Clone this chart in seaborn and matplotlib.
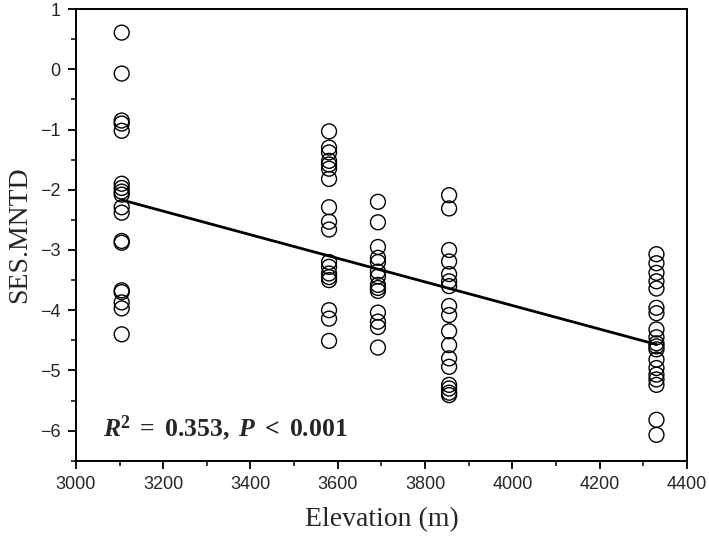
import matplotlib
matplotlib.use("Agg")
import matplotlib.pyplot as plt
import seaborn as sns
import pandas as pd
from matplotlib.ticker import MultipleLocator

elev_sites = [3105, 3580, 3692, 3855, 4330]
ses_3105 = [0.61, -0.07, -0.85, -0.90, -1.02, -1.90, -1.97, -2.03, -2.08, -2.29, -2.38,
            -2.85, -2.88, -3.67, -3.70, -3.87, -3.97, -4.40]
ses_3580 = [-1.03, -1.30, -1.38, -1.52, -1.58, -1.65, -1.82, -2.29, -2.53, -2.66,
            -3.20, -3.28, -3.39, -3.45, -3.50, -4.00, -4.14, -4.51]
ses_3692 = [-2.20, -2.54, -2.95, -3.13, -3.20, -3.36, -3.44, -3.58, -3.63, -3.68,
            -4.04, -4.19, -4.28, -4.62]
ses_3855 = [-2.09, -2.31, -3.00, -3.19, -3.40, -3.52, -3.60, -3.93, -4.08, -4.35,
            -4.58, -4.80, -4.94, -5.24, -5.30, -5.37, -5.41]
ses_4330 = [-3.07, -3.22, -3.38, -3.52, -3.64, -3.96, -4.05, -4.32, -4.45, -4.55,
            -4.60, -4.65, -4.82, -4.96, -5.07, -5.15, -5.24, -5.82, -6.07]

x_ticks = [3000, 3200, 3400, 3600, 3800, 4000, 4200, 4400]
y_ticks = [1, 0, -1, -2, -3, -4, -5, -6]
annot = r"$\mathbfit{R}^{\mathbf{2}}$" + r"$\mathbf{\ =\ 0.353,\ }$" + r"$\mathbfit{P}$" + r"$\mathbf{\ <\ 0.001}$"

groups = [ses_3105, ses_3580, ses_3692, ses_3855, ses_4330]
rows = []
for e, vals in zip(elev_sites, groups):
    for v in vals:
        rows.append((e, v))
df = pd.DataFrame(rows, columns=["Elevation", "SES"])

sns.set_style("ticks")
plt.rcParams["font.family"] = ["Liberation Sans", "DejaVu Sans"]
plt.rcParams["mathtext.fontset"] = "custom"
plt.rcParams["mathtext.rm"] = "Liberation Serif"
plt.rcParams["mathtext.it"] = "Liberation Serif:italic"
plt.rcParams["mathtext.bf"] = "Liberation Serif:bold"
plt.rcParams["mathtext.bfit"] = "Liberation Serif:bold:italic"

fig = plt.figure(figsize=(7.09, 5.37), dpi=100)
ax = fig.add_axes([0.107, 0.142, 0.862, 0.841])

sns.scatterplot(data=df, x="Elevation", y="SES", ax=ax, s=115, marker="o",
                facecolor="none", edgecolor="black", linewidth=1.0)
sns.regplot(data=df, x="Elevation", y="SES", ax=ax, scatter=False, ci=None,
            color="black", line_kws={"linewidth": 2.0})

ax.set_xlim(3000, 4400)
ax.set_ylim(-6.5, 1)
ax.set_xticks(x_ticks)
ax.set_yticks(y_ticks)
ax.set_xticklabels([str(t) for t in x_ticks], fontfamily="Liberation Sans")
ax.set_yticklabels([f"{t}".replace("-", "\u2212") for t in y_ticks], fontfamily="Liberation Sans")
ax.xaxis.set_minor_locator(MultipleLocator(100))
ax.yaxis.set_minor_locator(MultipleLocator(0.5))
ax.tick_params(which="major", direction="out", length=6, width=1.3, labelsize=13, color="black", pad=5)
ax.tick_params(which="minor", direction="out", length=3.5, width=1.1, color="black")
ax.tick_params(top=False, right=False, which="both")
for sp in ax.spines.values():
    sp.set_linewidth(1.4)
    sp.set_color("black")

ax.set_xlabel("Elevation (m)", fontfamily="Liberation Serif", fontsize=20, labelpad=10)
ax.set_ylabel("SES.MNTD", fontfamily="Liberation Serif", fontsize=20, labelpad=6)

ax.text(0.045, 0.04, annot, transform=ax.transAxes, fontsize=18.5, ha="left", va="bottom")

fig.savefig("out.png", dpi=100)
